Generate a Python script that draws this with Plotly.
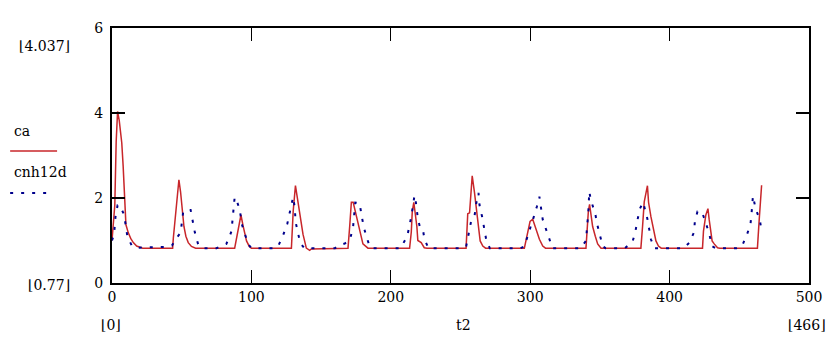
import plotly.graph_objects as go

# ---- data ----
ca_t = [0, 2, 3, 4, 5.2, 7, 8, 8.6, 10, 11.7, 13.4, 15.3, 17.7, 22,
        43.5, 44, 46.3, 48, 49.2, 50.6, 51.6, 53, 54.7, 57, 60,
        88, 89.5, 91, 92.5, 94, 96.5, 98.5, 100,
        128.7, 130, 131.6, 133.5, 135.2, 137, 139.4, 141.8, 143,
        169.3, 170.5, 171.7, 173, 175.3, 177.6, 180, 183.6,
        213.5, 214.7, 215.4, 216.5, 218.7, 219.4, 221.8, 224, 226,
        254, 255.2, 256.5, 257.7, 258.4, 260, 261.2, 262.4, 264.1, 266, 268,
        295.8, 298.2, 299.9, 301.8, 304.2, 306.6, 309, 311,
        340, 340.5, 341.7, 342.6, 344.8, 346.7, 348.4, 350.8,
        379.4, 380.6, 381.8, 384.1, 384.9, 386.6, 388.3, 390.2, 392, 394,
        423.6, 424.3, 426, 427.5, 428.4, 429.6, 430.5, 432, 434.4, 436,
        463, 464.2, 466]
ca_v = [1.0, 1.83, 3.33, 4.037, 3.82, 3.3, 2.75, 2.3, 1.37, 1.18, 1.05, 0.95, 0.87, 0.82,
        0.82, 1.06, 1.91, 2.43, 2.14, 1.68, 1.33, 1.1, 0.95, 0.86, 0.82,
        0.82, 1.1, 1.4, 1.6, 1.35, 0.99, 0.86, 0.82,
        0.82, 1.7, 2.29, 1.9, 1.56, 1.15, 0.82, 0.77, 0.8,
        0.82, 1.33, 1.9, 1.9, 1.6, 1.26, 0.92, 0.82,
        0.82, 1.2, 1.68, 1.9, 1.33, 1.0, 0.95, 0.83, 0.82,
        0.82, 1.63, 1.65, 2.25, 2.52, 2.14, 1.79, 1.33, 0.99, 0.87, 0.82,
        0.82, 1.22, 1.45, 1.5, 1.26, 1.03, 0.87, 0.82,
        0.82, 1.1, 1.68, 1.85, 1.33, 1.1, 0.92, 0.82,
        0.82, 1.33, 1.91, 2.29, 1.9, 1.56, 1.26, 0.99, 0.87, 0.82,
        0.82, 1.22, 1.6, 1.75, 1.49, 1.17, 0.99, 0.92, 0.83, 0.82,
        0.82, 1.45, 2.3]

cnh_t = [0, 1.5, 2.5, 4, 5.5, 8.5, 10, 11, 14, 17,
         38, 43, 46.3, 49.2, 51.1, 53.5, 56.4, 57.8, 59.5, 61.8, 65,
         75, 77, 82, 84, 85.7, 86.5, 87, 88, 89.3, 91.7, 93, 95.3, 97.6, 100,
         116, 119, 122.7, 125.8, 127.5, 128.7, 129.9, 131, 131.8, 133.5, 135, 138,
         160, 164, 167, 170.5, 172.9, 174.5, 177.6, 178.9, 180.5, 182.4, 185, 187,
         207, 211.8, 213, 214.7, 217, 217.8, 219.4, 221, 223, 224.2, 227,
         250, 254, 257.6, 260, 261.2, 262.9, 263.6, 265.5, 267.2, 268.4, 271,
         293, 295.8, 300.6, 303, 304.7, 306.6, 309, 311.8, 313.8, 316,
         336, 338, 340, 341.7, 342.4, 343.5, 346.7, 347.9, 349.6, 352, 354,
         368, 373.4, 375.4, 377, 378.7, 381, 382, 384, 385.4, 386.6, 389,
         410, 414, 417.6, 418.1, 420, 423.2, 426, 428.4, 430.3, 433,
         448, 452, 455.6, 458, 458.7, 459.3, 459.8, 461.7, 464.7, 466]
cnh_v = [1.0, 1.15, 1.56, 1.83, 1.83, 1.62, 1.33, 1.1, 0.89, 0.83,
         0.85, 0.88, 1.06, 1.18, 1.68, 1.72, 1.72, 1.45, 1.18, 0.91, 0.82,
         0.82, 0.85, 0.92, 1.06, 1.22, 1.5, 1.75, 2.02, 1.95, 1.72, 1.4, 1.17, 0.92, 0.82,
         0.82, 0.85, 1.12, 1.4, 1.65, 1.9, 2.02, 1.8, 1.42, 1.17, 0.94, 0.82,
         0.82, 0.9, 0.93, 1.0, 1.3, 1.89, 1.88, 1.62, 1.33, 1.1, 0.85, 0.82,
         0.82, 1.1, 1.3, 1.56, 2.06, 1.95, 1.52, 1.3, 1.26, 1.03, 0.82,
         0.82, 0.85, 1.45, 1.56, 1.86, 2.12, 1.84, 1.56, 1.29, 1.03, 0.82,
         0.82, 0.86, 1.33, 1.6, 1.79, 2.03, 1.49, 1.22, 0.99, 0.82,
         0.82, 0.9, 0.99, 1.68, 2.15, 1.95, 1.63, 1.4, 1.15, 0.87, 0.82,
         0.82, 0.97, 1.2, 1.49, 1.75, 1.9, 1.79, 1.52, 1.26, 1.03, 0.82,
         0.82, 0.94, 1.2, 1.45, 1.68, 1.68, 1.41, 1.17, 0.87, 0.82,
         0.82, 0.87, 1.15, 1.38, 1.6, 1.9, 2.05, 1.75, 1.49, 1.22]

x_ticks = [0, 100, 200, 300, 400, 500]
y_ticks = [0, 2, 4, 6]
series_names = ["ca", "cnh12d"]
range_labels = {"ymax": "4.037", "ymin": "0.77", "xmin": "0", "xmax": "466", "xname": "t2"}

RED = "#c8262a"
BLUE = "#00008c"
FONT = "DejaVu Serif"
FS = 14

fig = go.Figure()
fig.add_trace(go.Scatter(x=ca_t, y=ca_v, mode="lines", name=series_names[0],
                         line=dict(color=RED, width=1.5)))
fig.add_trace(go.Scatter(x=cnh_t, y=cnh_v, mode="lines", name=series_names[1],
                         line=dict(color=BLUE, width=2, dash="3px,8px")))

axis_common = dict(showgrid=False, zeroline=False, showline=True, linecolor="black",
                   linewidth=2, mirror="allticks", ticks="inside", ticklen=13,
                   tickcolor="black", tickfont=dict(family=FONT, size=FS, color="black"))
fig.update_xaxes(range=[0, 500], tickvals=x_ticks, tickwidth=1, **axis_common)
fig.update_yaxes(range=[0, 6], tickvals=y_ticks, tickwidth=2, ticklabelstandoff=4, **axis_common)

# page has an 8px body margin; compensate so the plot area lands at
# x 112..810, y 22..283 in the browser window
OFF = 8
W, H = 834 - OFF, 341 - OFF
L, R, T, B = 112 - OFF, 24, 22 - OFF, 58
pw, ph = W - L - R, H - T - B
X0, Y1 = L + OFF, H - B + OFF   # page pixel of plot left / bottom

def px(xpix):
    return (xpix - X0) / pw

def py(ypix):
    return (Y1 - ypix) / ph

f = dict(family=FONT, size=FS, color="black")
ann = [
    dict(text="⌊" + range_labels["ymax"] + "⌋", x=px(44), y=py(40), xanchor="center"),
    dict(text="⌊" + range_labels["ymin"] + "⌋", x=px(49), y=py(285), xanchor="center"),
    dict(text=series_names[0], x=px(12), y=py(127), xanchor="left"),
    dict(text=series_names[1], x=px(12), y=py(169), xanchor="left"),
    dict(text="⌊" + range_labels["xmin"] + "⌋", x=px(111), y=py(326), xanchor="center"),
    dict(text=range_labels["xname"], x=px(464), y=py(326), xanchor="center"),
    dict(text="⌊" + range_labels["xmax"] + "⌋", x=px(808), y=py(326), xanchor="center"),
]
for a in ann:
    fig.add_annotation(xref="paper", yref="paper", yanchor="middle", showarrow=False,
                       font=f, **a)

fig.add_shape(type="line", xref="paper", yref="paper", x0=px(10), x1=px(57),
              y0=py(148), y1=py(148), line=dict(color=RED, width=1.5))
fig.add_shape(type="line", xref="paper", yref="paper", x0=px(10), x1=px(50),
              y0=py(191), y1=py(191), line=dict(color=BLUE, width=2, dash="3px,8px"))

fig.update_layout(width=W, height=H, margin=dict(l=L, r=R, t=T, b=B),
                  paper_bgcolor="white", plot_bgcolor="white", showlegend=False)

fig.write_html("out.html")
